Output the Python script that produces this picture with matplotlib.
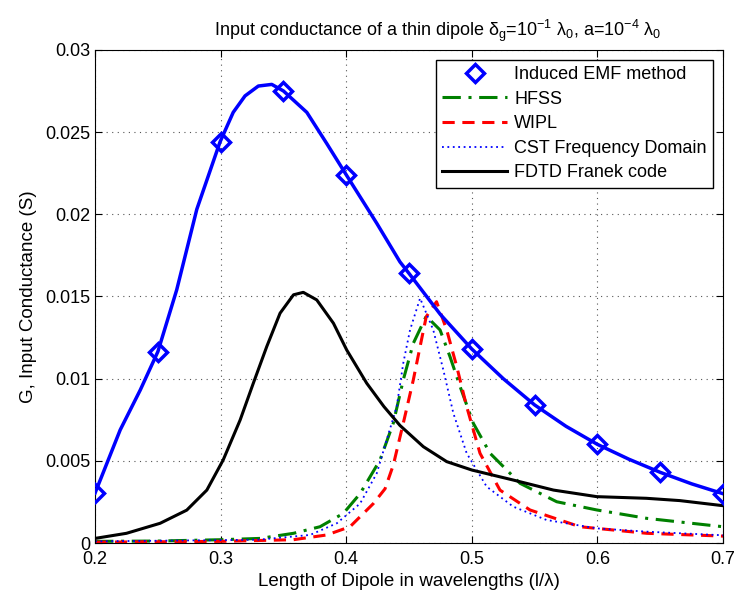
import matplotlib.pyplot as plt

plt.rcParams['font.family'] = ['Liberation Sans', 'DejaVu Sans']
plt.rcParams['mathtext.fontset'] = 'custom'
plt.rcParams['mathtext.rm'] = 'Liberation Sans'
plt.rcParams['mathtext.it'] = 'Liberation Sans'

# induced EMF method - markers
emf_x = [0.2, 0.25, 0.3, 0.35, 0.4, 0.45, 0.5, 0.55, 0.6, 0.65, 0.7]
emf_y = [0.00304, 0.0116, 0.0244, 0.0275, 0.0224, 0.0164, 0.0118, 0.0084, 0.0060, 0.0043, 0.0030]

# induced EMF method - fine curve
emf_line_x = [0.2, 0.22, 0.236, 0.25, 0.265, 0.281, 0.2995, 0.31, 0.3194, 0.33, 0.3407,
              0.35, 0.3686, 0.3845, 0.4, 0.4243, 0.4428, 0.45, 0.475, 0.5, 0.525, 0.55,
              0.575, 0.6, 0.625, 0.65, 0.675, 0.7]
emf_line_y = [0.00304, 0.00688, 0.00931, 0.01164, 0.0154, 0.0203, 0.0244, 0.0262, 0.0272,
              0.0278, 0.0279, 0.0275, 0.0262, 0.0243, 0.0224, 0.01945, 0.0171, 0.0164,
              0.0139, 0.0118, 0.0100, 0.0084, 0.0071, 0.0060, 0.0051, 0.0043, 0.0036, 0.0030]

hfss_x = [0.2, 0.25, 0.3, 0.3314, 0.358, 0.3791, 0.3977, 0.411, 0.4269, 0.4375, 0.4454,
          0.4534, 0.4637, 0.4747, 0.4826, 0.4906, 0.5012, 0.5145, 0.5384, 0.5676, 0.5995,
          0.6393, 0.7]
hfss_y = [0.0001, 0.00012, 0.0002, 0.00028, 0.00059, 0.00099, 0.0018, 0.0030, 0.00505,
          0.0073, 0.00992, 0.01215, 0.0138, 0.01296, 0.01134, 0.00953, 0.00728, 0.00546,
          0.00363, 0.00251, 0.00201, 0.0015, 0.00099]

wipl_x = [0.2, 0.3, 0.3579, 0.3845, 0.403, 0.4216, 0.4309, 0.4375, 0.4454, 0.4534, 0.4588,
          0.4637, 0.4719, 0.48, 0.488, 0.4959, 0.5065, 0.5224, 0.5463, 0.5861, 0.6393, 0.7]
wipl_y = [0.00005, 0.0001, 0.0002, 0.00049, 0.00099, 0.0024, 0.0033, 0.00475, 0.00728,
          0.00992, 0.01195, 0.01377, 0.01468, 0.01296, 0.01073, 0.0083, 0.00546, 0.00322,
          0.00201, 0.00099, 0.00059, 0.00042]

cst_x = [0.2, 0.33, 0.3712, 0.3925, 0.411, 0.4243, 0.4322, 0.4402, 0.4454, 0.4508, 0.4588,
         0.4693, 0.4773, 0.4853, 0.4959, 0.5118, 0.533, 0.5595, 0.5995, 0.6393, 0.7]
cst_y = [0.0001, 0.0002, 0.00049, 0.0012, 0.0024, 0.00424, 0.00627, 0.0083, 0.01094,
         0.01296, 0.01489, 0.01296, 0.01053, 0.00789, 0.00546, 0.00343, 0.00221, 0.0014,
         0.00089, 0.00069, 0.00047]

fdtd_x = [0.2, 0.225, 0.2518, 0.273, 0.289, 0.302, 0.3155, 0.326, 0.3367, 0.3473, 0.358,
          0.3658, 0.3765, 0.3898, 0.4004, 0.4163, 0.4300, 0.4428, 0.4614, 0.48, 0.5,
          0.533, 0.565, 0.5995, 0.639, 0.6656, 0.7]
fdtd_y = [0.00028, 0.00059, 0.0012, 0.0020, 0.00322, 0.00505, 0.00748, 0.00972, 0.01195,
          0.01398, 0.0151, 0.01525, 0.01479, 0.01337, 0.01174, 0.00972, 0.0083, 0.00715,
          0.00586, 0.00495, 0.00444, 0.00383, 0.00322, 0.00282, 0.00272, 0.00258, 0.00227]

fig = plt.figure(figsize=(7.37, 6.01), dpi=100)
ax = fig.add_axes([0.129, 0.0965, 0.852, 0.8205])

ax.plot(emf_x, emf_y, linestyle='none', marker='D', markersize=9.5, mfc='none',
        mec='#0000ff', mew=2.5, label='Induced EMF method', zorder=5)
ax.plot(hfss_x, hfss_y, color='#008000', linestyle=(0, (6, 2.5, 1, 2.5)), lw=2.2, label='HFSS')
ax.plot(wipl_x, wipl_y, color='#ff0000', linestyle=(0, (4, 2.5)), lw=2.2, label='WIPL')
ax.plot(cst_x, cst_y, color='#0000ff', linestyle=(0, (1, 2)), lw=1.3, label='CST Frequency Domain')
ax.plot(fdtd_x, fdtd_y, color='black', lw=2.2, label='FDTD Franek code')
ax.plot(emf_line_x, emf_line_y, color='#0000ff', lw=2.5, zorder=4)

ax.set_xlim(0.2, 0.7)
ax.set_ylim(0, 0.03)
ax.set_xticks([0.2, 0.3, 0.4, 0.5, 0.6, 0.7])
ax.set_xticklabels(['0.2', '0.3', '0.4', '0.5', '0.6', '0.7'])
ax.set_yticks([0, 0.005, 0.01, 0.015, 0.02, 0.025, 0.03])
ax.set_yticklabels(['0', '0.005', '0.01', '0.015', '0.02', '0.025', '0.03'])
ax.tick_params(direction='in', top=True, right=True, labelsize=13, length=5)
ax.tick_params(axis='x', pad=6)
ax.grid(True, linestyle=(0, (1, 4)), color='#555555', lw=0.8)

ax.set_xlabel('Length of Dipole in wavelengths (l/λ)', fontsize=13.5, labelpad=3)
ax.set_ylabel('G, Input Conductance (S)', fontsize=13.5, labelpad=6)
ax.set_title(r'Input conductance of a thin dipole δ$_{g}$=10$^{-1}$ λ$_{0}$, a=10$^{-4}$ λ$_{0}$',
             fontsize=13, pad=10, x=0.545)

leg = ax.legend(loc='upper right', fontsize=13, fancybox=False, edgecolor='black',
                framealpha=1, handlelength=3.6, handletextpad=0.4, borderpad=0.35,
                labelspacing=0.42, borderaxespad=0.55)
leg.get_frame().set_linewidth(1.0)

plt.savefig('out.png', dpi=100)
